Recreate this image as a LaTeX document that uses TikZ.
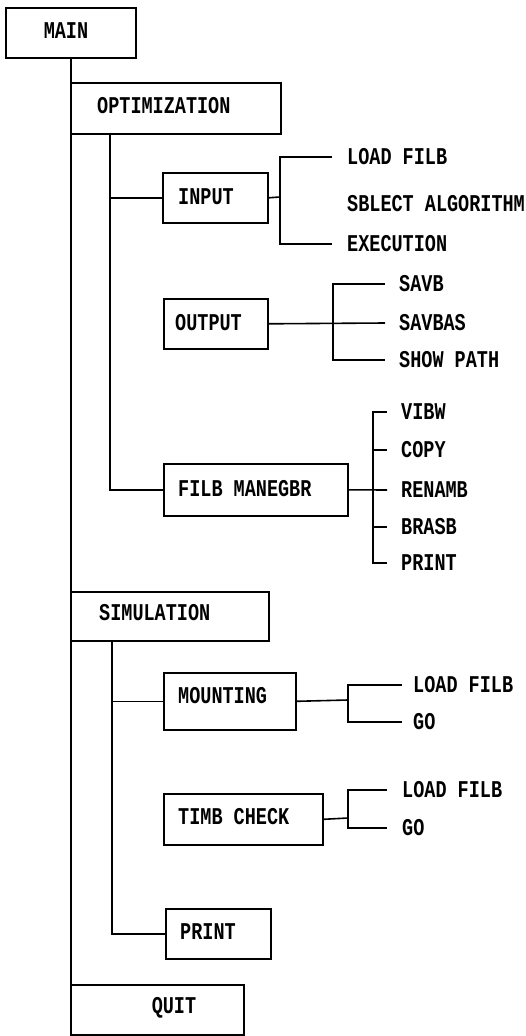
\documentclass[tikz,border=0pt]{standalone}
\usepackage{fontspec}
\setmonofont{Liberation Mono}
\usepackage{graphicx}
\newcommand{\lbl}[1]{\scalebox{1}[1.3]{#1}}
\begin{document}
\begin{tikzpicture}[x=1pt,y=-1pt,
  bx/.style={draw, line width=1.6pt, inner sep=0, anchor=north west},
  tx/.style={inner sep=0, anchor=west, font=\ttfamily\bfseries\fontsize{18.5}{20}\selectfont},
  ln/.style={line width=1.6pt}]
\useasboundingbox (0,0) rectangle (526,1036);
% boxes
\node[bx, minimum width=130, minimum height=50] (main) at (5,7) {};
\node[bx, minimum width=210, minimum height=51] (opt) at (70,82) {};
\node[bx, minimum width=105, minimum height=50] (in) at (162,172) {};
\node[bx, minimum width=104, minimum height=50] (out) at (163,298) {};
\node[bx, minimum width=184, minimum height=52] (fm) at (163,463) {};
\node[bx, minimum width=198, minimum height=49] (sim) at (70,591) {};
\node[bx, minimum width=132, minimum height=57] (mt) at (163,672) {};
\node[bx, minimum width=159, minimum height=51] (tc) at (163,793) {};
\node[bx, minimum width=105, minimum height=50] (pr) at (165,908) {};
\node[bx, minimum width=173, minimum height=50] (quit) at (70,984) {};
% box texts
\node[tx, anchor=center] (mainT) at (66,31) {\lbl{MAIN}};
\node[tx] (optT) at (97,106) {\lbl{OPTIMIZATION}};
\node[tx] (inT) at (178,197) {\lbl{INPUT}};
\node[tx] (outT) at (175,323) {\lbl{OUTPUT}};
\node[tx] (fmT) at (178,489) {\lbl{FILB MANEGBR}};
\node[tx] (simT) at (99,613) {\lbl{SIMULATION}};
\node[tx] (mtT) at (178,696) {\lbl{MOUNTING}};
\node[tx] (tcT) at (178,817) {\lbl{TIMB CHECK}};
\node[tx] (prT) at (180,932) {\lbl{PRINT}};
\node[tx, anchor=center] (quitT) at (174,1008) {\lbl{QUIT}};
% leaf labels
\node[tx] (i1) at (347,157) {\lbl{LOAD FILB}};
\node[tx] (i2) at (347,204) {\lbl{SBLECT ALGORITHM}};
\node[tx] (i3) at (347,244) {\lbl{EXECUTION}};
\node[tx] (o1) at (399,284) {\lbl{SAVB}};
\node[tx] (o2) at (399,323) {\lbl{SAVBAS}};
\node[tx] (o3) at (399,360) {\lbl{SHOW PATH}};
\node[tx] (v1) at (401,412) {\lbl{VIBW}};
\node[tx] (v2) at (401,450) {\lbl{COPY}};
\node[tx] (v3) at (401,490) {\lbl{RENAMB}};
\node[tx] (v4) at (401,527) {\lbl{BRASB}};
\node[tx] (v5) at (401,563) {\lbl{PRINT}};
\node[tx] (m1) at (413,685) {\lbl{LOAD FILB}};
\node[tx] (m2) at (413,722) {\lbl{GO}};
\node[tx] (t1) at (402,790) {\lbl{LOAD FILB}};
\node[tx] (t2) at (402,828) {\lbl{GO}};
% trunk
\draw[ln] (main.south) -- (main.south |- quit.south);
% optimization branch
\coordinate (ov) at (110,133);
\draw[ln] (ov) |- (fm.west);
\draw[ln] (ov |- in.west) -- (in.west);
% input bracket
\coordinate (ib) at (280,197);
\draw[ln] (in.east) -- (ib);
\draw[ln] ([xshift=-15pt]i1.west) -| (ib) |- ([xshift=-15pt]i3.west);
% output bracket
\coordinate (ob) at (333,323);
\draw[ln] (out.east) -- ([xshift=-14pt]o2.west);
\draw[ln] ([xshift=-14pt]o1.west) -| (ob) |- ([xshift=-14pt]o3.west);
% file manager bracket
\coordinate (fb) at (373,490);
\draw[ln] (fm.east) -- ([xshift=-14pt]v3.west);
\draw[ln] ([xshift=-14pt]v1.west) -| (fb) |- ([xshift=-14pt]v5.west);
\draw[ln] (fb |- v2.west) -- ([xshift=-14pt]v2.west);
\draw[ln] (fb |- v4.west) -- ([xshift=-14pt]v4.west);
% simulation branch
\coordinate (sv) at (112,640);
\draw[ln] (sv) |- (pr.west);
\draw[ln] (sv |- mt.west) -- (mt.west);
% mounting bracket
\coordinate (mb) at (348,700);
\draw[ln] (mt.east) -- (mb);
\draw[ln] ([xshift=-11pt]m1.west) -| (mb) |- ([xshift=-11pt]m2.west);
% time check bracket
\coordinate (tb) at (348,818);
\draw[ln] (tc.east) -- (tb);
\draw[ln] ([xshift=-15pt]t1.west) -| (tb) |- ([xshift=-15pt]t2.west);
\end{tikzpicture}
\end{document}
